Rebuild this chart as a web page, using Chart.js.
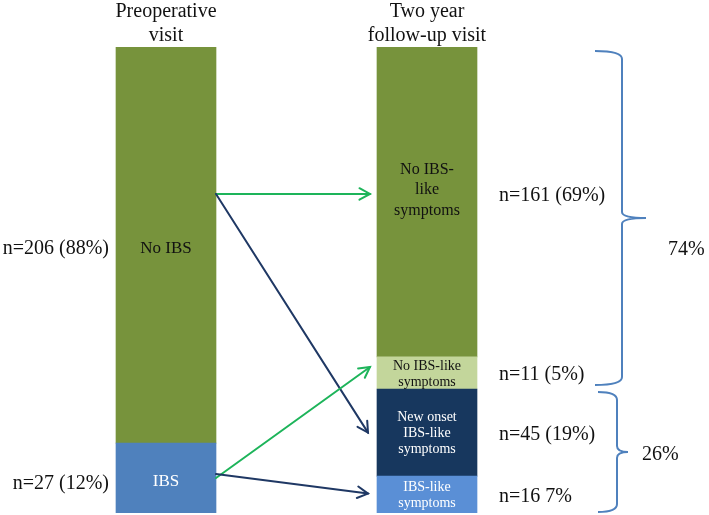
<!DOCTYPE html>
<html><head><meta charset="utf-8">
<script src="https://cdn.jsdelivr.net/npm/chart.js@4/dist/chart.umd.min.js"></script>
<style>html,body{margin:0;padding:0;background:#fff}#wrap{width:709px;height:515px;position:relative}</style>
</head><body><div id="wrap"><canvas id="c" width="709" height="515"></canvas></div>
<script>
// ---- data ----
const categories = [['Preoperative', 'visit'], ['Two year', 'follow-up visit']];
// segment heights (percent of bar height as drawn), bottom to top
const preopSegments = [['IBS'], ['No IBS']];
const preopValues = [15, 85];
const preopCounts = ['n=27 (12%)', 'n=206 (88%)'];
const followSegments = [['IBS-like', 'symptoms'], ['New onset', 'IBS-like', 'symptoms'], ['No IBS-like', 'symptoms'], ['No IBS-', 'like', 'symptoms']];
const followValues = [7.9, 18.7, 6.9, 66.5];
const followCounts = ['n=16 7%', 'n=45 (19%)', 'n=11 (5%)', 'n=161 (69%)'];
const groupLabels = ['74%', '26%'];

// ---- styles ----
const preopColors = ['#4F81BD', '#77933C'];
const followColors = ['#5A8FD6', '#17375E', '#C3D69B', '#77933C'];
const preopText = ['#ffffff', '#111111'];
const followText = ['#ffffff', '#ffffff', '#111111', '#111111'];
const SERIF = '"Liberation Serif", "Times New Roman", serif';

const datasets = [];
preopValues.forEach((v, i) => datasets.push({
  label: preopSegments[i].join(' '), data: [v, null], backgroundColor: preopColors[i], borderWidth: 0
}));
followValues.forEach((v, i) => datasets.push({
  label: followSegments[i].join(' '), data: [null, v], backgroundColor: followColors[i], borderWidth: 0
}));

function arrow(ctx, x1, y1, x2, y2, color) {
  ctx.save();
  ctx.strokeStyle = color; ctx.lineWidth = 2; ctx.lineCap = 'round';
  ctx.beginPath(); ctx.moveTo(x1, y1); ctx.lineTo(x2, y2); ctx.stroke();
  const a = Math.atan2(y2 - y1, x2 - x1), L = 12, w = 0.5;
  ctx.beginPath();
  ctx.moveTo(x2 - L * Math.cos(a - w), y2 - L * Math.sin(a - w));
  ctx.lineTo(x2, y2);
  ctx.lineTo(x2 - L * Math.cos(a + w), y2 - L * Math.sin(a + w));
  ctx.stroke();
  ctx.restore();
}

function brace(ctx, x, top, bottom, tipY, hook, tip) {
  ctx.save();
  ctx.strokeStyle = '#4F81BD'; ctx.lineWidth = 2;
  ctx.beginPath();
  ctx.moveTo(x - hook, top);
  ctx.quadraticCurveTo(x, top, x, top + 8);
  ctx.lineTo(x, tipY - 6);
  ctx.quadraticCurveTo(x, tipY, x + tip, tipY);
  ctx.moveTo(x + tip, tipY);
  ctx.quadraticCurveTo(x, tipY, x, tipY + 6);
  ctx.lineTo(x, bottom - 8);
  ctx.quadraticCurveTo(x, bottom, x - hook, bottom);
  ctx.stroke();
  ctx.restore();
}

function lines(ctx, arr, x, cy, lh) {
  const n = arr.length;
  arr.forEach((t, k) => ctx.fillText(t, x, cy + (k - (n - 1) / 2) * lh));
}

const overlay = {
  id: 'overlay',
  afterDatasetsDraw(chart) {
    const ctx = chart.ctx;
    const P = i => chart.getDatasetMeta(i).data[0];
    const F = i => chart.getDatasetMeta(2 + i).data[1];
    const mid = e => (e.y + e.base) / 2;
    ctx.save();

    // titles
    ctx.fillStyle = '#111';
    ctx.textAlign = 'center';
    ctx.font = '20px ' + SERIF;
    const p0 = P(0), f0 = F(0);
    ctx.textBaseline = 'alphabetic';
    categories[0].forEach((t, k) => ctx.fillText(t, p0.x, 17 + k * 24));
    categories[1].forEach((t, k) => ctx.fillText(t, f0.x, 17 + k * 24));
    ctx.textBaseline = 'middle';

    // preop segment labels
    preopSegments.forEach((s, i) => {
      const e = P(i);
      ctx.fillStyle = preopText[i];
      ctx.font = '17px ' + SERIF;
      ctx.textAlign = 'center';
      lines(ctx, s, e.x, mid(e) + 3, 18);
      ctx.fillStyle = '#111';
      ctx.font = '20px ' + SERIF;
      ctx.textAlign = 'right';
      ctx.fillText(preopCounts[i], e.x - e.width / 2 - 7, mid(e) + (i === 0 ? 6 : 4));
    });

    // follow-up segment labels
    followSegments.forEach((s, i) => {
      const e = F(i);
      ctx.fillStyle = followText[i];
      ctx.textAlign = 'center';
      if (i === 3) { ctx.font = '16px ' + SERIF; lines(ctx, s, e.x, mid(e) - 12, 20.5); }
      else { ctx.font = '14px ' + SERIF; lines(ctx, s, e.x, mid(e) + 1, 16); }
      ctx.fillStyle = '#111';
      ctx.font = '20px ' + SERIF;
      ctx.textAlign = 'left';
      ctx.fillText(followCounts[i], e.x + e.width / 2 + 22, mid(e) + (i === 3 ? -6 : 2));
    });

    // arrows
    const pr = p0.x + p0.width / 2;
    const fl = f0.x - f0.width / 2;
    const yA = mid(F(3)) - 8;
    arrow(ctx, pr, yA, fl - 7, yA, '#1DB45A');
    arrow(ctx, pr, yA, fl - 9, mid(F(1)), '#1F3864');
    arrow(ctx, pr, mid(P(0)), fl - 7, mid(F(2)) - 6, '#1DB45A');
    arrow(ctx, pr, mid(P(0)) - 4, fl - 9, mid(F(0)) - 1, '#1F3864');

    // braces
    const b1top = F(3).y + 4, b1bot = F(2).base - 4;
    const b1tip = (b1top + b1bot) / 2;
    brace(ctx, 622, b1top, b1bot, b1tip, 27, 24);
    const b2top = F(1).y + 3, b2bot = F(0).base - 1;
    const b2tip = (b2top + b2bot) / 2;
    brace(ctx, 617, b2top, b2bot, b2tip, 19, 11);
    ctx.fillStyle = '#111';
    ctx.font = '20px ' + SERIF;
    ctx.textAlign = 'left';
    ctx.fillText(groupLabels[0], 668, b1tip + 32);
    ctx.fillText(groupLabels[1], 642, b2tip + 3);
    ctx.restore();
  }
};

new Chart(document.getElementById('c'), {
  type: 'bar',
  data: { labels: categories.map(c => c.join(' ')), datasets },
  options: {
    responsive: false,
    animation: false,
    layout: { padding: { left: 35.5, right: 151.5, top: 47, bottom: 2 } },
    plugins: { legend: { display: false }, tooltip: { enabled: false }, title: { display: false } },
    datasets: { bar: { barThickness: 100 } },
    scales: {
      x: { stacked: true, display: false, offset: true },
      y: { stacked: true, display: false, min: 0, max: 100 }
    }
  },
  plugins: [overlay]
});
</script>
</body></html>
